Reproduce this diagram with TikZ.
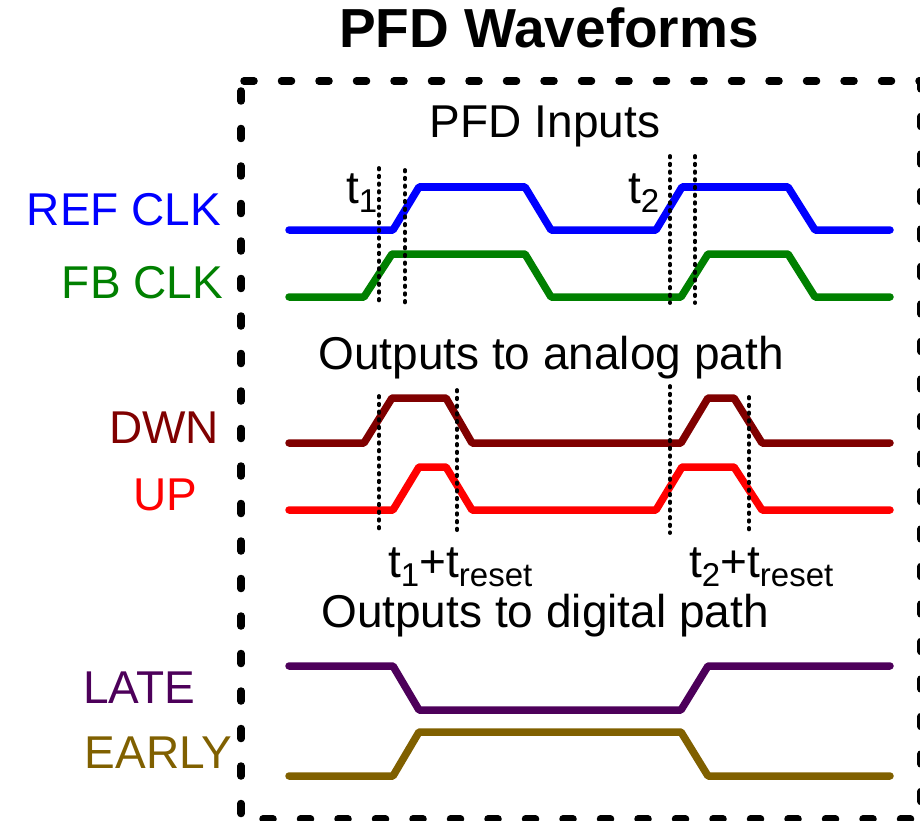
\documentclass[tikz,border=0pt]{standalone}
\usepackage{fontspec}
\setmainfont{Liberation Sans}

\definecolor{refclk}{RGB}{0,0,255}
\definecolor{fbclk}{RGB}{0,128,0}
\definecolor{dwnclr}{RGB}{128,0,0}
\definecolor{upclr}{RGB}{255,0,0}
\definecolor{lateclr}{RGB}{77,0,90}
\definecolor{earlyclr}{RGB}{128,96,0}

\newcommand{\lowsub}[1]{\raisebox{-9pt}{\fontsize{33}{33}\selectfont #1}}

\begin{document}
\begin{tikzpicture}[
    x=1pt, y=-1pt,
    wave/.style={line width=7.5pt, line cap=round, line join=round},
    tline/.style={line width=3.8pt, line cap=round, dash pattern=on 1.5pt off 6.2pt},
    frame/.style={line width=7.5pt, line cap=round, dash pattern=on 10pt off 27.5pt},
    sig/.style={anchor=base, inner sep=0pt, font=\fontsize{46}{50}\selectfont},
    lbl/.style={anchor=base west, inner sep=0pt, font=\fontsize{46}{50}\selectfont}
]
\useasboundingbox (0,0) rectangle (920,821);

% Title and frame
\node[sig, font=\fontsize{55}{60}\selectfont\bfseries] (title) at (549,48) {PFD Waveforms};
\draw[frame, dash phase=34.5pt] (241,81) -- (921,81) -- (921,819);
\draw[frame, dash phase=27.5pt] (241,81) -- (241,819) -- (921,819);

% Section 1: PFD inputs
\node[sig] (inhdr) at (545,138) {PFD Inputs};
\node[sig, text=refclk] (reflbl) at (124,225) {REF CLK};
\node[sig, text=fbclk] (fblbl) at (142.5,298) {FB CLK};
\draw[wave, refclk] (289,230) -- (393,230) -- (419,187) -- (525,187) -- (551,230)
    -- (656,230) -- (682,187) -- (788,187) -- (815,230) -- (890,230);
\draw[wave, fbclk] (289,297) -- (364,297) -- (392,254) -- (525,254) -- (551,297)
    -- (681,297) -- (708,254) -- (788,254) -- (815,297) -- (890,297);
\draw[tline] (379,168) -- (379,303);
\draw[tline] (405,170) -- (405,303);
\draw[tline] (670,156) -- (670,303);
\draw[tline] (695,156) -- (695,303);
\node[lbl] (t1) at (346,204) {t\lowsub{1}};
\node[lbl] (t2) at (628,204) {t\lowsub{2}};

% Section 2: analog path
\node[sig] (anhdr) at (551,369) {Outputs to analog path};
\node[sig, text=dwnclr] (dwnlbl) at (164,443) {DWN};
\node[sig, text=upclr] (uplbl) at (165,510) {UP};
\draw[wave, dwnclr] (289,443) -- (364,443) -- (392,398) -- (446,398) -- (472,443)
    -- (681,443) -- (708,398) -- (734,398) -- (762,443) -- (890,443);
\draw[wave, upclr] (289,510) -- (393,510) -- (419,467) -- (446,467) -- (472,510)
    -- (656,510) -- (682,467) -- (734,467) -- (762,510) -- (890,510);
\draw[tline] (379,396) -- (379,533);
\draw[tline] (457,390) -- (457,533);
\draw[tline] (670,386) -- (670,533);
\draw[tline] (749,397) -- (749,533);
\node[lbl] (t1r) at (388,577) {t\lowsub{1}+t\lowsub{reset}};
\node[lbl] (t2r) at (689,577) {t\lowsub{2}+t\lowsub{reset}};

% Section 3: digital path
\node[sig] (dghdr) at (545,627) {Outputs to digital path};
\node[sig, text=lateclr] (latelbl) at (139,703) {LATE};
\node[sig, text=earlyclr] (earlylbl) at (158.5,768) {EARLY};
\draw[wave, lateclr] (289,666) -- (393,666) -- (419,710) -- (681,710) -- (708,666) -- (890,666);
\draw[wave, earlyclr] (289,776) -- (393,776) -- (419,732) -- (681,732) -- (708,776) -- (890,776);

\end{tikzpicture}
\end{document}
